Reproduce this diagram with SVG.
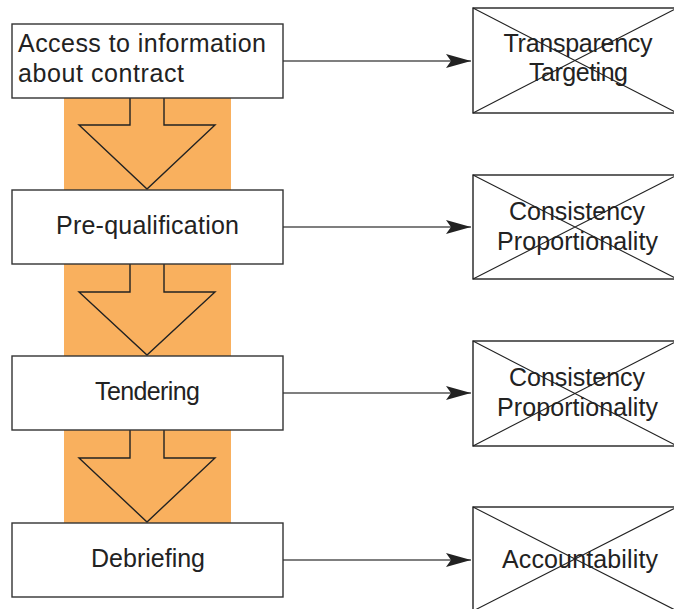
<svg xmlns="http://www.w3.org/2000/svg" width="674" height="609" viewBox="0 0 674 609">
<defs>
<style>
.box{fill:#fff;stroke:#333;stroke-width:1.4}
.xbox{fill:#fff;stroke:#222;stroke-width:1.4}
.x{stroke:#222;stroke-width:1.1;fill:none}
.flow{fill:#f9b05e;stroke:#222;stroke-width:1.4;stroke-linejoin:miter}
.conn{stroke:#555;stroke-width:1.4;fill:none}
text{font-family:"Liberation Sans",Arial,sans-serif;font-size:25px;fill:#222}
.c{text-anchor:middle}
</style>
<marker id="ah" viewBox="0 0 25 14" refX="25" refY="7" markerWidth="25" markerHeight="14" markerUnits="userSpaceOnUse" orient="auto">
<path d="M0,0 L25,7 L0,14 L5,7 Z" fill="#222"/>
</marker>
</defs>
<rect x="64" y="96" width="167" height="428" fill="#f9b05e"/>
<g id="arrows">
<path class="flow" d="M130,98 V125 H79 L147,189 L215,125 H164 V98"/>
<path class="flow" d="M130,264 V292 H79 L147,355 L215,292 H164 V264"/>
<path class="flow" d="M130,430 V458 H79 L147,522 L215,458 H164 V430"/>
</g>
<g id="connectors">
<line class="conn" x1="283" y1="61" x2="471" y2="61" marker-end="url(#ah)"/>
<line class="conn" x1="283" y1="227" x2="471" y2="227" marker-end="url(#ah)"/>
<line class="conn" x1="283" y1="393" x2="471" y2="393" marker-end="url(#ah)"/>
<line class="conn" x1="283" y1="560" x2="471" y2="560" marker-end="url(#ah)"/>
</g>
<g id="n1"><rect class="box" x="12" y="24" width="271" height="74"/>
<text x="18" y="52" textLength="248" lengthAdjust="spacing">Access to information</text><text x="18" y="82" textLength="166" lengthAdjust="spacing">about contract</text></g>
<g id="n2"><rect class="box" x="12" y="190" width="271" height="74"/>
<text class="c" x="147.5" y="234" textLength="183" lengthAdjust="spacing">Pre-qualification</text></g>
<g id="n3"><rect class="box" x="12" y="356" width="271" height="74"/>
<text class="c" x="147.5" y="400" textLength="105" lengthAdjust="spacing">Tendering</text></g>
<g id="n4"><rect class="box" x="12" y="523" width="271" height="74"/>
<text class="c" x="148" y="567" textLength="114" lengthAdjust="spacing">Debriefing</text></g>
<g id="r1"><rect class="xbox" x="473" y="8" width="204" height="105"/>
<path class="x" d="M473,8 L677,113 M473,113 L677,8"/>
<text class="c" x="578" y="52" textLength="149" lengthAdjust="spacing">Transparency</text><text class="c" x="578.5" y="81" textLength="99" lengthAdjust="spacing">Targeting</text></g>
<g id="r2"><rect class="xbox" x="473" y="175" width="204" height="104"/>
<path class="x" d="M473,175 L677,279 M473,279 L677,175"/>
<text class="c" x="577" y="220" textLength="136" lengthAdjust="spacing">Consistency</text><text class="c" x="577.5" y="250" textLength="161" lengthAdjust="spacing">Proportionality</text></g>
<g id="r3"><rect class="xbox" x="473" y="341" width="204" height="105"/>
<path class="x" d="M473,341 L677,446 M473,446 L677,341"/>
<text class="c" x="577" y="386" textLength="136" lengthAdjust="spacing">Consistency</text><text class="c" x="577.5" y="416" textLength="161" lengthAdjust="spacing">Proportionality</text></g>
<g id="r4"><rect class="xbox" x="473" y="507" width="204" height="104"/>
<path class="x" d="M473,507 L677,611 M473,611 L677,507"/>
<text class="c" x="580" y="568" textLength="156" lengthAdjust="spacing">Accountability</text></g>
</svg>
